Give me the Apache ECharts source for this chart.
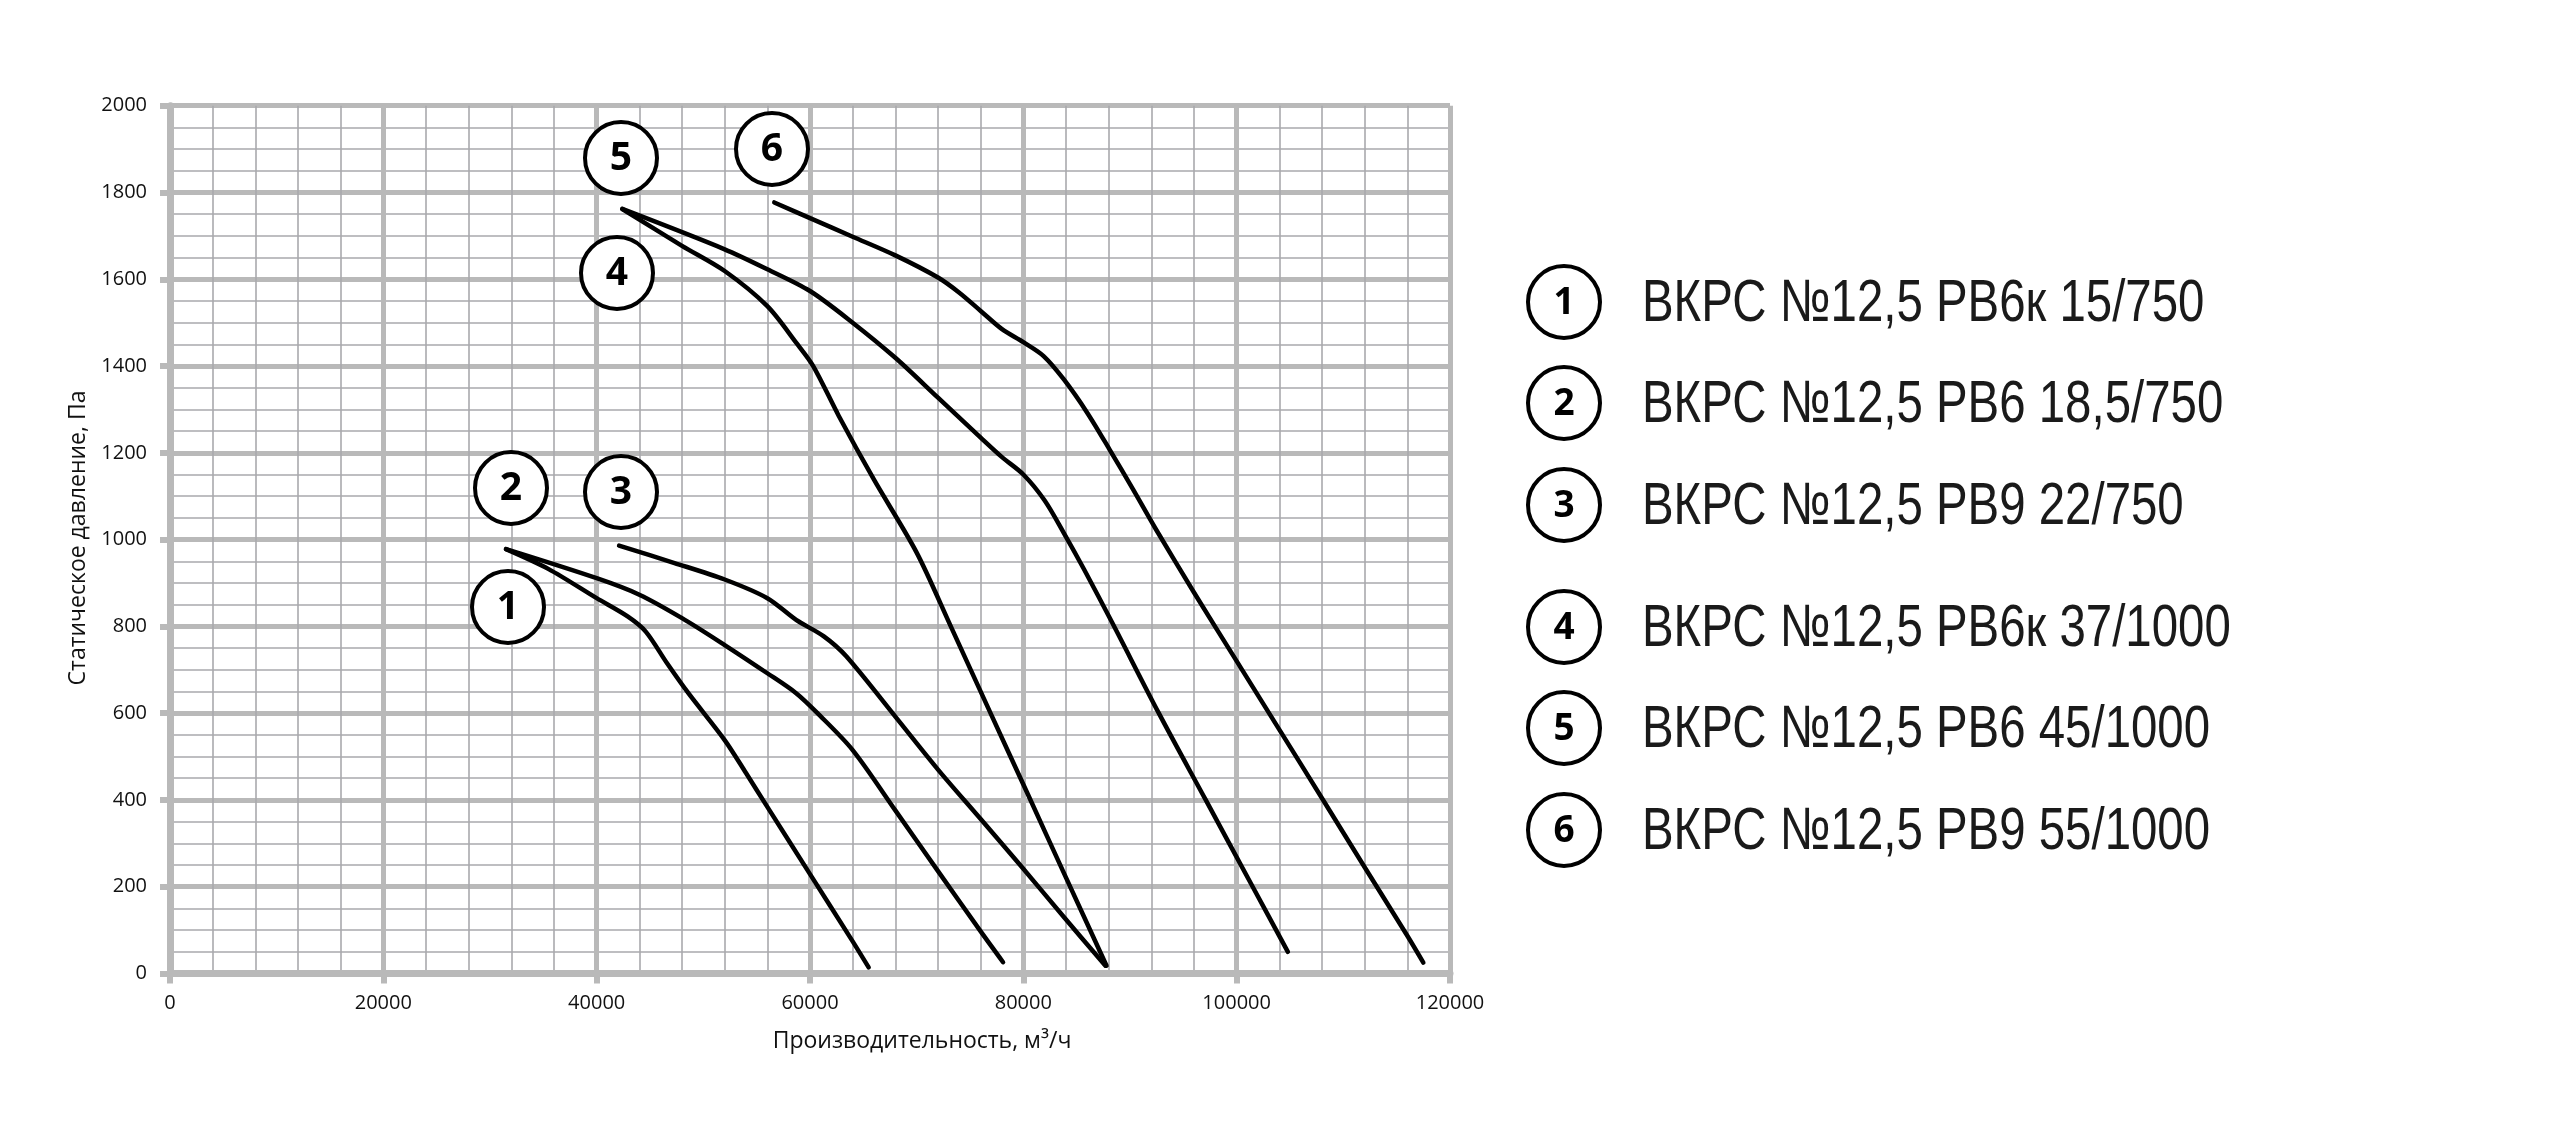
<!DOCTYPE html>
<html><head><meta charset="utf-8">
<script src="https://cdn.jsdelivr.net/npm/echarts@6.0.0/dist/echarts.min.js"></script>
<style>html,body{margin:0;padding:0;background:#fff}#c{width:2560px;height:1126px}</style>
</head><body><div id="c"></div>
<script>
// ---- data ----
const seriesIds = ['1', '2', '3', '4', '5', '6'];
const legendTexts = [
  'ВКРС №12,5 РВ6к 15/750',
  'ВКРС №12,5 РВ6 18,5/750',
  'ВКРС №12,5 РВ9 22/750',
  'ВКРС №12,5 РВ6к 37/1000',
  'ВКРС №12,5 РВ6 45/1000',
  'ВКРС №12,5 РВ9 55/1000'
];
const xAxisTitle = 'Производительность, м³/ч';
const yAxisTitle = 'Статическое давление, Па';

const flow1 = [31500, 35500, 40000, 42900, 44600, 46600, 48600, 52000, 54000, 56000, 60000, 64000, 65500];
const pres1 = [978, 932, 865, 823, 788, 715, 646, 538, 462, 384, 229, 74, 14];

const flow2 = [31500, 40000, 44000, 48000, 52000, 56000, 58700, 60700, 64000, 68000, 72000, 76000, 78100];
const pres2 = [978, 911, 873, 819, 757, 692, 646, 600, 515, 376, 236, 97, 26];

const flow3 = [42100, 47300, 52000, 56000, 58700, 61300, 63400, 68000, 72000, 76000, 79700, 83700, 87700];
const pres3 = [986, 946, 908, 865, 815, 777, 731, 592, 470, 356, 250, 133, 18];

const flow4 = [42400, 48000, 52000, 56000, 58700, 60300, 62700, 66000, 70000, 73200, 77000, 80500, 84000, 87800];
const pres4 = [1762, 1677, 1619, 1538, 1454, 1400, 1285, 1138, 970, 800, 596, 409, 221, 18];

const flow5 = [42400, 52000, 56000, 60000, 64000, 68000, 72000, 76000, 78000, 80000, 82000, 83800, 85700, 88300, 92700, 97100, 101500, 104800];
const pres5 = [1762, 1669, 1623, 1573, 1500, 1419, 1327, 1235, 1190, 1150, 1090, 1015, 931, 810, 600, 400, 200, 50];

const flow6 = [56650, 60000, 64000, 68000, 72000, 74000, 76000, 78000, 80000, 81900, 83800, 86000, 88100, 90300, 92400, 96000, 100000, 104000, 108000, 112000, 116000, 117500];
const pres6 = [1777, 1741, 1698, 1655, 1604, 1569, 1527, 1485, 1455, 1423, 1369, 1292, 1207, 1115, 1025, 878, 720, 562, 404, 245, 87, 25];

const flows = [flow1, flow2, flow3, flow4, flow5, flow6];
const pressures = [pres1, pres2, pres3, pres4, pres5, pres6];

// ---- layout (pixels) ----
const annotPos = [[508, 607], [511, 488], [621, 492], [617, 273], [621, 158], [772, 149]];
const legendRowY = [302, 403, 505, 627, 728, 830];
const legendCircleX = 1564;
const legendTextX = 1642;

const MAJOR = '#b9b9b9';
const MINOR = '#a9a9ad';
const FONT = "'Open Sans', 'Noto Sans', sans-serif";

const series = flows.map((f, i) => ({
  type: 'line',
  name: seriesIds[i],
  data: f.map((x, j) => [x, pressures[i][j]]),
  showSymbol: false,
  symbol: 'none',
  smooth: 0.3,
  lineStyle: { color: '#000', width: 4.5, cap: 'round', join: 'round' },
  z: 5,
  silent: true
}));

const graphics = [];
function circleWithNum(cx, cy, num, fs) {
  graphics.push({
    type: 'circle', shape: { cx: cx, cy: cy, r: 36 },
    style: { fill: '#fff', stroke: '#000', lineWidth: 4 }, z: 100
  });
  graphics.push({
    type: 'text', x: cx, y: cy + 1, z: 101,
    style: { text: num, font: 'bold ' + fs + 'px ' + FONT, fill: '#000', align: 'center', verticalAlign: 'middle' }
  });
}
annotPos.forEach((p, i) => circleWithNum(p[0], p[1], seriesIds[i], 39));
legendRowY.forEach((y, i) => {
  circleWithNum(legendCircleX, y, seriesIds[i], 37);
  graphics.push({
    type: 'text', x: legendTextX, y: y + 2, z: 101, scaleX: 0.79,
    style: { text: legendTexts[i], font: "60px 'Liberation Sans', Arial, sans-serif",
      fill: '#1a1a1a', align: 'left', verticalAlign: 'middle' }
  });
});
graphics.push({
  type: 'text', x: 922, y: 1041, z: 101,
  style: { text: xAxisTitle, font: '23px ' + FONT, fill: '#111', align: 'center', verticalAlign: 'middle' }
});
graphics.push({
  type: 'text', x: 78, y: 538, rotation: Math.PI / 2, z: 101,
  style: { text: yAxisTitle, font: '23px ' + FONT, fill: '#111', align: 'center', verticalAlign: 'middle' }
});

const plain = v => String(v);

const chart = echarts.init(document.getElementById('c'), null, { renderer: 'canvas' });
chart.setOption({
  backgroundColor: '#fff',
  animation: false,
  grid: { left: 170, top: 105.7, width: 1280, height: 867.8, containLabel: false },
  xAxis: {
    type: 'value', min: 0, max: 120000, interval: 20000,
    axisLine: { show: true, onZero: false, lineStyle: { color: MAJOR, width: 7 } },
    axisTick: { show: true, length: 10, lineStyle: { color: MAJOR, width: 6 } },
    axisLabel: { margin: 20, fontSize: 20, fontFamily: FONT, color: '#111', formatter: plain },
    splitLine: { show: true, lineStyle: { color: MAJOR, width: 5 } },
    minorTick: { show: false, splitNumber: 5 },
    minorSplitLine: { show: true, lineStyle: { color: MINOR, width: 1.6 } }
  },
  yAxis: {
    type: 'value', min: 0, max: 2000, interval: 200,
    axisLine: { show: true, onZero: false, lineStyle: { color: MAJOR, width: 7 } },
    axisTick: { show: true, length: 10, lineStyle: { color: MAJOR, width: 6 } },
    axisLabel: { margin: 23, fontSize: 20, fontFamily: FONT, color: '#111', formatter: plain },
    splitLine: { show: true, lineStyle: { color: MAJOR, width: 5 } },
    minorTick: { show: false, splitNumber: 4 },
    minorSplitLine: { show: true, lineStyle: { color: MINOR, width: 1.6 } }
  },
  series: series,
  graphic: graphics
});
</script>
</body></html>
